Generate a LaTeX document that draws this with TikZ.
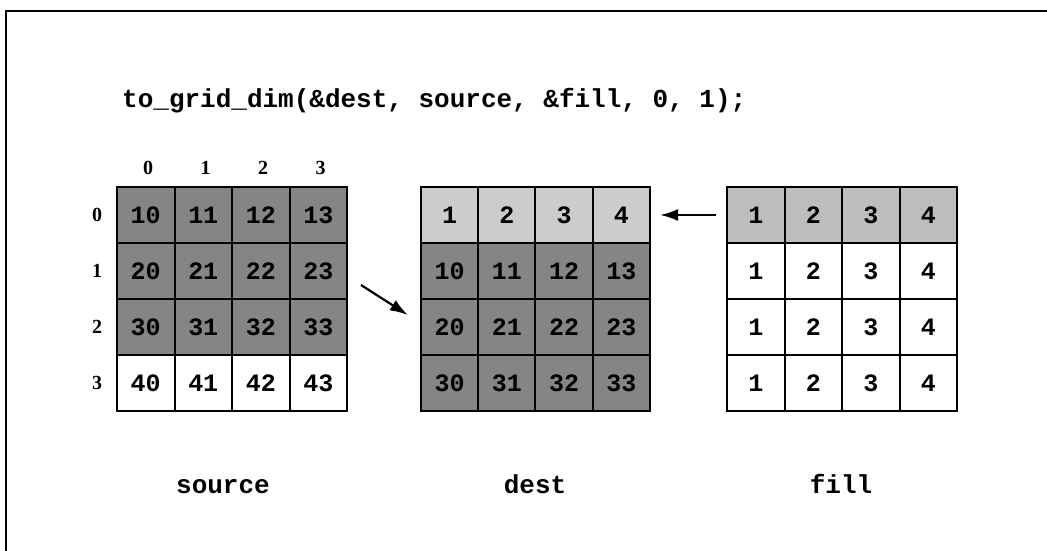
\documentclass[tikz,border=0pt]{standalone}
\usepackage{fontspec}
\setmonofont{Liberation Mono}
\newfontfamily\idxfont{Liberation Serif}
\usetikzlibrary{arrows.meta}
\definecolor{darkcell}{gray}{0.52}
\definecolor{lightcell}{gray}{0.8}
\definecolor{fillcell}{gray}{0.74}
\tikzset{
  cellbase/.style={draw=black, line width=2pt, minimum width=57.5pt, minimum height=56pt,
    inner sep=0pt, font=\fontsize{25}{25}\selectfont\ttfamily\bfseries},
  darkc/.style={cellbase, fill=darkcell},
  lightc/.style={cellbase, fill=lightcell},
  fillc/.style={cellbase, fill=fillcell},
  whitec/.style={cellbase, fill=white},
  idx/.style={font=\fontsize{20}{20}\selectfont\idxfont\bfseries, inner sep=0pt},
  code/.style={font=\fontsize{26}{26}\selectfont\ttfamily\bfseries, inner sep=0pt},
  arr/.style={line width=2.2pt, -{Latex[length=18pt,width=12pt]}},
  frame/.style={line width=2pt}
}
\begin{document}
\begin{tikzpicture}[x=1pt,y=-1pt]
\useasboundingbox (0,0) rectangle (1047,551);
% frame (only top and left edges visible)
\coordinate (ftl) at (6,11);
\coordinate (ftr) at (1047,11);
\coordinate (fbl) at (6,551);
\draw[frame] (ftr) -- (ftl) -- (fbl);
% title
\node[code, anchor=base west] (title) at (122,107) {to\_grid\_dim(\&dest, source, \&fill, 0, 1);};
% source grid
\foreach \r/\st in {0/darkc,1/darkc,2/darkc,3/whitec}{
  \foreach \c in {0,...,3}{
    \pgfmathtruncatemacro{\v}{(\r+1)*10+\c}
    \node[\st] (s-\r-\c) at ({145.75+57.5*\c},{215+56*\r}) {\v};
  }
}
% indices
\foreach \c in {0,...,3}{
  \node[idx] (ci-\c) at ({148+57.5*\c},168) {\c};
}
\foreach \r in {0,...,3}{
  \node[idx] (ri-\r) at (97,{215+56*\r}) {\r};
}
% dest grid
\foreach \c in {0,...,3}{
  \pgfmathtruncatemacro{\v}{\c+1}
  \node[lightc] (d-0-\c) at ({449.6+57.25*\c},215) {\v};
}
\foreach \r in {1,2,3}{
  \foreach \c in {0,...,3}{
    \pgfmathtruncatemacro{\v}{\r*10+\c}
    \node[darkc] (d-\r-\c) at ({449.6+57.25*\c},{215+56*\r}) {\v};
  }
}
% fill grid
\foreach \r/\st in {0/fillc,1/whitec,2/whitec,3/whitec}{
  \foreach \c in {0,...,3}{
    \pgfmathtruncatemacro{\v}{\c+1}
    \node[\st] (f-\r-\c) at ({755.75+57.5*\c},{215+56*\r}) {\v};
  }
}
% arrows
\draw[arr] ([xshift=-10pt]f-0-0.west) -- ([xshift=9pt]d-0-3.east);
\draw[arr] ([xshift=13pt,yshift=-14pt]s-1-3.east) -- ([xshift=-12pt,yshift=12pt]d-2-0.west);
% labels
\node[code, anchor=base] (lsource) at (223,493) {source};
\node[code, anchor=base] (ldest) at (535,493) {dest};
\node[code, anchor=base] (lfill) at (841,493) {fill};
\end{tikzpicture}
\end{document}
